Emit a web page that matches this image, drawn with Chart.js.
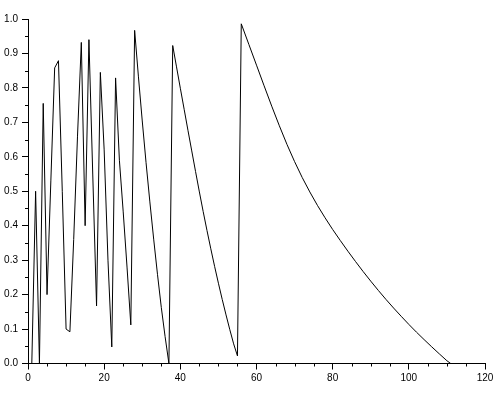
<!DOCTYPE html>
<html>
<head>
<meta charset="utf-8">
<script src="https://cdn.jsdelivr.net/npm/chart.js@4"></script>
<style>
  html, body { margin: 0; padding: 0; background: #fff; }
</style>
</head>
<body>
<canvas id="plot" width="500" height="400"></canvas>
<script>
// Sample positions and values
const xs = [
  0, 1, 2, 3, 4, 5, 6, 7, 8, 9, 10, 11, 12, 13, 14, 15, 16, 17, 18, 19,
  20, 21, 22, 23, 24, 25, 26, 27, 28, 29, 30, 31, 32, 33, 34, 35, 36, 37, 38, 39,
  40, 41, 42, 43, 44, 45, 46, 47, 48, 49, 50, 51, 52, 53, 54, 55, 56,
  58, 60, 62, 64, 66, 68, 70, 72, 74, 76, 78, 80, 82, 84, 86, 88, 90,
  92, 94, 96, 98, 100, 102, 104, 106, 108, 110, 111
];
const ys = [
  0, 0, 0.50, 0.0, 0.755, 0.20, 0.53, 0.858, 0.879, 0.50, 0.10, 0.092, 0.36, 0.66, 0.932, 0.40, 0.94, 0.55, 0.167, 0.845,
  0.62, 0.30, 0.048, 0.829, 0.59, 0.44, 0.28, 0.112, 0.967, 0.832, 0.704, 0.583, 0.469, 0.361, 0.259, 0.163, 0.078, 0.0, 0.923, 0.861,
  0.799, 0.738, 0.677, 0.617, 0.557, 0.498, 0.441, 0.386, 0.333, 0.282, 0.233, 0.186, 0.141, 0.098, 0.057, 0.022, 0.986,
  0.926, 0.866, 0.806, 0.747, 0.690, 0.636, 0.586, 0.540, 0.498, 0.459, 0.423, 0.389, 0.357, 0.326, 0.296, 0.267, 0.239,
  0.212, 0.186, 0.161, 0.137, 0.1135, 0.091, 0.0695, 0.0485, 0.028, 0.008, 0.0
];

const xRange = [0, 120];
const yRange = [0, 1];
const xMajor = 20, xMinor = 5;
const yMajor = 0.1, yMinor = 0.05;

// short minor ticks between the labelled ones
const minorTicks = {
  id: 'minorTicks',
  afterDraw(chart) {
    const { ctx, scales: { x, y } } = chart;
    ctx.save();
    ctx.strokeStyle = '#000';
    ctx.lineWidth = 1;
    ctx.beginPath();
    for (let v = xRange[0]; v <= xRange[1]; v += xMinor) {
      if (v % xMajor === 0) continue;
      const px = Math.round(x.getPixelForValue(v)) + 0.5;
      ctx.moveTo(px, x.top);
      ctx.lineTo(px, x.top + 3);
    }
    for (let i = 1; i < Math.round((yRange[1] - yRange[0]) / yMinor); i += 2) {
      const py = Math.round(y.getPixelForValue(yRange[0] + i * yMinor)) + 0.5;
      ctx.moveTo(y.right, py);
      ctx.lineTo(y.right - 3, py);
    }
    ctx.stroke();
    ctx.restore();
  }
};

const tickFont = { family: 'Liberation Sans', size: 10 };

window.onload = function() {
  const ctx = document.getElementById('plot').getContext('2d');
  new Chart(ctx, {
    type: 'line',
    data: {
      datasets: [{
        data: xs.map((x, i) => ({ x: x, y: ys[i] })),
        borderColor: '#000',
        borderWidth: 1,
        pointRadius: 0,
        fill: false,
        tension: 0
      }]
    },
    options: {
      responsive: false,
      animation: false,
      layout: { padding: { top: 19, right: 15, left: 0, bottom: 0 } },
      plugins: { legend: { display: false }, tooltip: { enabled: false } },
      scales: {
        x: {
          type: 'linear',
          min: xRange[0],
          max: xRange[1],
          border: { color: '#000', width: 1 },
          grid: { drawOnChartArea: false, tickLength: 6, tickColor: '#000' },
          ticks: { stepSize: xMajor, color: '#000', font: tickFont, padding: 3, maxRotation: 0 },
          afterFit(scale) { scale.height = 36.5; }
        },
        y: {
          min: yRange[0],
          max: yRange[1],
          border: { color: '#000', width: 1 },
          grid: { drawOnChartArea: false, tickLength: 6, tickColor: '#000' },
          ticks: {
            stepSize: yMajor, color: '#000', font: tickFont, padding: 4,
            callback: v => v.toFixed(1)
          },
          afterFit(scale) { scale.width = 28; }
        }
      }
    },
    plugins: [minorTicks]
  });
};
</script>
</body>
</html>
